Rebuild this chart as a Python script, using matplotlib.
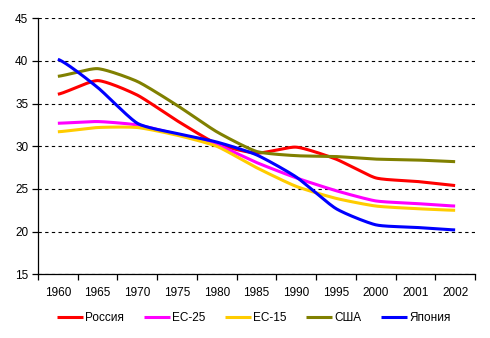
import numpy as np
import matplotlib
matplotlib.use("Agg")
from matplotlib import pyplot as plt

# categories and series
years = ["1960", "1965", "1970", "1975", "1980", "1985", "1990", "1995", "2000", "2001", "2002"]
russia = [36.1, 37.7, 36.0, 33.0, 30.3, 29.2, 29.9, 28.5, 26.3, 25.9, 25.4]
ec25 = [32.7, 32.9, 32.5, 31.4, 30.2, 28.1, 26.3, 24.8, 23.6, 23.3, 23.0]
ec15 = [31.7, 32.2, 32.2, 31.3, 30.0, 27.5, 25.3, 23.9, 23.0, 22.7, 22.5]
usa = [38.2, 39.1, 37.6, 34.8, 31.7, 29.4, 28.9, 28.8, 28.5, 28.4, 28.2]
japan = [40.2, 36.9, 32.7, 31.5, 30.5, 29.0, 26.4, 22.7, 20.8, 20.5, 20.2]

names = ["Россия", "ЕС-25", "ЕС-15", "США", "Япония"]
colors = ["#FF0000", "#FF00FF", "#FFCC00", "#808000", "#0000FF"]

plt.rcParams["font.family"] = ["Liberation Sans", "DejaVu Sans"]
plt.rcParams["font.size"] = 8.5


def smooth(x, y, n=30, s=0.6):
    # cubic Hermite curve through the points with damped tangents
    x = np.asarray(x, float)
    y = np.asarray(y, float)
    px = np.concatenate([[2 * x[0] - x[1]], x, [2 * x[-1] - x[-2]]])
    py = np.concatenate([[y[0]], y, [y[-1]]])
    t = np.linspace(0, 1, n)
    h00 = 2 * t ** 3 - 3 * t ** 2 + 1
    h10 = t ** 3 - 2 * t ** 2 + t
    h01 = -2 * t ** 3 + 3 * t ** 2
    h11 = t ** 3 - t ** 2
    xs, ys = [], []
    for i in range(1, len(px) - 2):
        for p, out in ((px, xs), (py, ys)):
            m1 = s * (p[i + 1] - p[i - 1]) / 2
            m2 = s * (p[i + 2] - p[i]) / 2
            out.append(h00 * p[i] + h10 * m1 + h01 * p[i + 1] + h11 * m2)
    return np.concatenate(xs), np.concatenate(ys)


fig = plt.figure(figsize=(4.9, 3.38), dpi=100)
ax = fig.add_axes([38 / 490, 1 - 274.3 / 338, (475 - 38) / 490, (274.3 - 18.3) / 338])

x = np.arange(len(years))
for series, name, c in zip([russia, ec25, ec15, usa, japan], names, colors):
    sx, sy = smooth(x, series)
    ax.plot(sx, sy, color=c, lw=2.2, label=name, solid_capstyle="butt")

ax.set_xlim(-0.5, len(years) - 0.5)
ax.set_ylim(15, 45)
ax.set_yticks(np.arange(15, 46, 5))
ax.yaxis.grid(True, color="black", linestyle=(0, (3, 3)), linewidth=0.8)
ax.set_axisbelow(True)

ax.set_xticks(x)
ax.set_xticklabels(years)
ax.set_xticks(np.arange(-0.5, len(years), 1), minor=True)
ax.tick_params(axis="x", which="major", length=0, pad=9)
ax.tick_params(axis="x", which="minor", length=4, width=0.9, direction="out")
ax.tick_params(axis="y", length=4, width=0.9, direction="out", pad=3)

for s in ["top", "right"]:
    ax.spines[s].set_visible(False)
for s in ["left", "bottom"]:
    ax.spines[s].set_linewidth(0.9)

ax.legend(loc="center", bbox_to_anchor=(0.494, -0.171), ncol=5, frameon=False,
          handlelength=2.2, handletextpad=0.15, columnspacing=1.7, fontsize=8.5)

fig.savefig("out.png", dpi=100)
